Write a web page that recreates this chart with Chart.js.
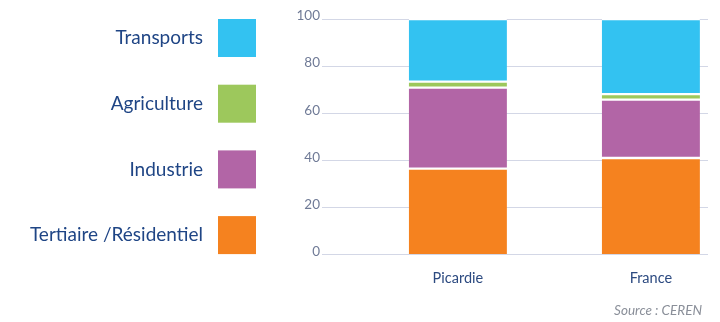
<!DOCTYPE html>
<html>
<head>
<meta charset="utf-8">
<script src="https://cdn.jsdelivr.net/npm/chart.js@4"></script>
<style>
  html, body { margin: 0; padding: 0; background: #fff; }
  #wrap { width: 720px; height: 322px; }
</style>
</head>
<body>
<div id="wrap"><canvas id="chart"></canvas></div>
<script>
// categories + series (percent of energy consumption by sector)
const regions = ["Picardie", "France"];
const tertiaire = [36.5, 41.0];
const industrie = [34.4, 24.8];
const agriculture = [2.5, 2.3];
const transports = [26.6, 31.9];
const yTicks = [0, 20, 40, 60, 80, 100];
const sourceText = "Source : CEREN";

const toPoints = (arr) => arr.map((v, i) => ({ x: i, y: v }));

// white separators between stacked segments
const sep = { top: 1.5, bottom: 1.5, left: 0, right: 0 };

// legend drawn on the left: label text right-aligned, big colour square
const sideLegend = {
  id: "sideLegend",
  afterDraw(chart) {
    const ctx = chart.ctx;
    const items = chart.data.datasets.slice().reverse();
    ctx.save();
    ctx.font = "19px Lato";
    ctx.textAlign = "right";
    ctx.textBaseline = "middle";
    items.forEach((ds, i) => {
      const top = 19 + i * 65.7;
      ctx.fillStyle = "#1f4585";
      ctx.fillText(ds.label, 203, top + 19);
      ctx.fillStyle = ds.backgroundColor;
      ctx.fillRect(218, top, 38, 38);
    });
    ctx.font = "italic 13.5px Lato";
    ctx.fillStyle = "#8a8f99";
    ctx.fillText(sourceText, 702, 311);
    ctx.restore();
  }
};

new Chart(document.getElementById("chart"), {
  type: "bar",
  data: {
    datasets: [
      { label: "Tertiaire /Résidentiel", data: toPoints(tertiaire), backgroundColor: "#f5821f",
        borderColor: "#ffffff", borderWidth: { top: 1.5, bottom: 0, left: 0, right: 0 }, borderSkipped: false },
      { label: "Industrie", data: toPoints(industrie), backgroundColor: "#b265a6",
        borderColor: "#ffffff", borderWidth: sep, borderSkipped: false },
      { label: "Agriculture", data: toPoints(agriculture), backgroundColor: "#9dc85c",
        borderColor: "#ffffff", borderWidth: sep, borderSkipped: false },
      { label: "Transports", data: toPoints(transports), backgroundColor: "#33c2f1",
        borderColor: "#ffffff", borderWidth: sep, borderSkipped: false }
    ]
  },
  options: {
    responsive: true,
    maintainAspectRatio: false,
    animation: false,
    layout: { padding: { left: 290, right: 12, top: 19, bottom: 28 } },
    datasets: { bar: { barThickness: 98 } },
    plugins: { legend: { display: false }, tooltip: { enabled: false } },
    scales: {
      x: {
        type: "linear",
        stacked: true,
        offset: false,
        min: -0.704,
        max: 1.296,
        afterBuildTicks: (s) => { s.ticks = regions.map((_, i) => ({ value: i })); },
        ticks: {
          padding: 7,
          color: "#2c4a80",
          font: { family: "Lato", size: 14.5 },
          callback: (v) => regions[v] ?? ""
        },
        grid: { display: false },
        border: { display: false }
      },
      y: {
        stacked: true,
        min: 0,
        max: 100,
        afterBuildTicks: (s) => { s.ticks = yTicks.map((v) => ({ value: v })); },
        afterFit: (s) => { s.width = 32; },
        ticks: {
          padding: 2,
          labelOffset: -3,
          color: "#6f7a96",
          font: { family: "Lato", size: 13.5 }
        },
        grid: { color: "#d3d7e6", drawTicks: false },
        border: { display: false }
      }
    }
  },
  plugins: [sideLegend]
});
</script>
</body>
</html>
